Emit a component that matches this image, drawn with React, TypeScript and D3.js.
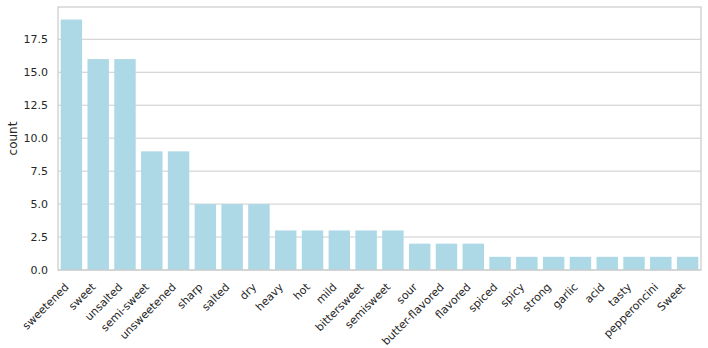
import * as d3 from 'd3';

const categories = [
  'sweetened', 'sweet', 'unsalted', 'semi-sweet', 'unsweetened', 'sharp', 'salted', 'dry',
  'heavy', 'hot', 'mild', 'bittersweet', 'semisweet', 'sour', 'butter-flavored', 'flavored',
  'spiced', 'spicy', 'strong', 'garlic', 'acid', 'tasty', 'pepperoncini', 'Sweet',
];
const counts = [19, 16, 16, 9, 9, 5, 5, 5, 3, 3, 3, 3, 3, 2, 2, 2, 1, 1, 1, 1, 1, 1, 1, 1];
const yTicks = [0, 2.5, 5, 7.5, 10, 12.5, 15, 17.5];

const width = 708;
const height = 348;
const margin = { top: 7, right: 7, bottom: 78, left: 58 };
const font = 'DejaVu Sans, sans-serif';
const ink = '#262626';
const grid = '#cccccc';

export default function App() {
  const x = d3.scaleBand<string>()
    .domain(categories)
    .range([margin.left, width - margin.right])
    .paddingInner(0.2)
    .paddingOuter(0.1);

  // matplotlib adds 5% headroom above the tallest bar
  const y = d3.scaleLinear()
    .domain([0, (d3.max(counts) ?? 0) * 1.05])
    .range([height - margin.bottom, margin.top]);

  const x0 = margin.left;
  const x1 = width - margin.right;
  const y0 = height - margin.bottom;
  const y1 = margin.top;

  // text box height for the rotated labels (DejaVu ascent + descent)
  const labelSize = 11;
  const boxH = labelSize * 1.164;

  return (
    <svg width={width} height={height} style={{ position: 'absolute', left: 0, top: 0 }}
      fontFamily={font}>
      <rect x={0} y={0} width={width} height={height} fill="white" />

      {/* horizontal grid */}
      {yTicks.map(t => (
        <line key={t} x1={x0} x2={x1} y1={y(t)} y2={y(t)} stroke={grid} strokeWidth={1} />
      ))}

      {/* bars */}
      {categories.map((c, i) => (
        <rect key={c} x={x(c)} y={y(counts[i])} width={x.bandwidth()}
          height={y(0) - y(counts[i])} fill="#add8e6" />
      ))}

      {/* frame */}
      <rect x={x0} y={y1} width={x1 - x0} height={y0 - y1} fill="none"
        stroke={grid} strokeWidth={1.25} />

      {/* y tick labels */}
      {yTicks.map(t => (
        <text key={t} x={x0 - 10} y={y(t)} dy="0.36em" textAnchor="end"
          fontSize={11} fill={ink}>{t.toFixed(1)}</text>
      ))}

      {/* x tick labels, rotated 45°, right edge of box at the bar centre */}
      {categories.map(c => {
        const cx = (x(c) ?? 0) + x.bandwidth() / 2;
        return (
          <text key={c} transform={`translate(${cx - boxH / Math.SQRT2},${y0 + 10.5}) rotate(-45)`}
            y={labelSize * 0.928} textAnchor="end" fontSize={labelSize} fill={ink}>{c}</text>
        );
      })}

      <text transform={`translate(17,${(y0 + y1) / 2}) rotate(-90)`} textAnchor="middle"
        fontSize={12} fill={ink}>count</text>
    </svg>
  );
}
